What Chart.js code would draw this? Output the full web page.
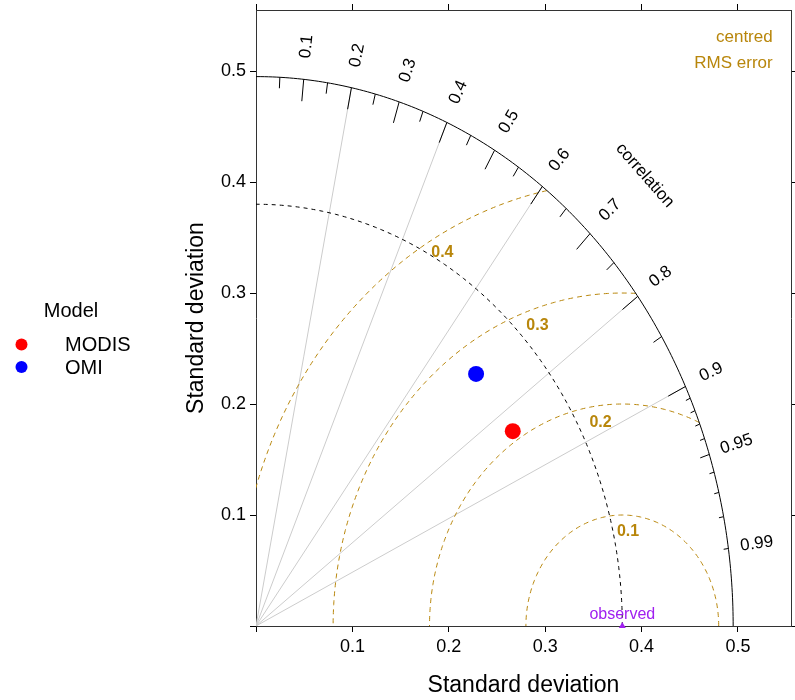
<!DOCTYPE html>
<html>
<head>
<meta charset="utf-8">
<script src="https://cdn.jsdelivr.net/npm/chart.js@4.4.1/dist/chart.umd.min.js"></script>
<style>
  html, body { margin: 0; padding: 0; background: #fff; }
  #wrap { position: relative; width: 795px; height: 700px; }
</style>
</head>
<body>
<div id="wrap"><canvas id="taylor"></canvas></div>
<script>
// model statistics
const models = ['MODIS', 'OMI'];
const modelColors = ['#ff0000', '#0000ff'];
const modelSd = [0.319, 0.322];
const modelCorr = [0.835, 0.709];
const obsSd = 0.38;

// diagram furniture
const sdMax = 0.495;
const axisTicks = [0, 0.1, 0.2, 0.3, 0.4, 0.5];
const corrLines = [0.2, 0.4, 0.6, 0.8, 0.9];
const corrLabels = [0.1, 0.2, 0.3, 0.4, 0.5, 0.6, 0.7, 0.8, 0.9, 0.95, 0.99];
const bigTicks = [0.1, 0.2, 0.3, 0.4, 0.5, 0.6, 0.7, 0.8, 0.9];
const medTicks = [0.05, 0.15, 0.25, 0.35, 0.45, 0.55, 0.65, 0.75, 0.85, 0.95];
const smlTicks = [0.91, 0.92, 0.93, 0.94, 0.96, 0.97, 0.98, 0.99];
const rmsLevels = [0.1, 0.2, 0.3, 0.4];

const FONT = "'Liberation Sans', Arial, sans-serif";
const GOLD = '#b8860b';
const PURPLE = '#a020f0';

Chart.defaults.font.family = FONT;

// arcs, rays, ticks and labels of the taylor diagram
const taylorGrid = {
  id: 'taylorGrid',
  beforeDatasetsDraw(chart) {
    const { ctx, chartArea: a, scales: { x, y } } = chart;
    const px = v => x.getPixelForValue(v);
    const py = v => y.getPixelForValue(v);
    const polar = (r, t) => [px(r * Math.cos(t)), py(r * Math.sin(t))];
    const arc = r => {
      ctx.beginPath();
      for (let i = 0; i <= 180; i++) {
        const p = polar(r, Math.PI / 2 * i / 180);
        i ? ctx.lineTo(p[0], p[1]) : ctx.moveTo(p[0], p[1]);
      }
      ctx.stroke();
    };

    ctx.save();
    ctx.beginPath();
    ctx.rect(a.left, a.top, a.right - a.left, a.bottom - a.top);
    ctx.clip();
    ctx.lineWidth = 1;

    // correlation rays
    ctx.strokeStyle = '#cccccc';
    corrLines.forEach(c => {
      const e = polar(sdMax, Math.acos(c));
      ctx.beginPath();
      ctx.moveTo(px(0), py(0));
      ctx.lineTo(e[0], e[1]);
      ctx.stroke();
    });

    // centred rms circles around the observed point
    ctx.strokeStyle = GOLD;
    ctx.setLineDash([5, 4]);
    rmsLevels.forEach(v => {
      const lim = (sdMax * sdMax - obsSd * obsSd - v * v) / (2 * obsSd * v);
      const start = lim >= 1 ? 0 : Math.acos(Math.max(-1, lim));
      ctx.beginPath();
      for (let i = 0; i <= 200; i++) {
        const p = start + (Math.PI - start) * i / 200;
        const X = px(obsSd + v * Math.cos(p)), Y = py(v * Math.sin(p));
        i ? ctx.lineTo(X, Y) : ctx.moveTo(X, Y);
      }
      ctx.stroke();
    });

    // observed sd arc
    ctx.strokeStyle = '#000';
    ctx.setLineDash([4, 4]);
    arc(obsSd);
    ctx.setLineDash([]);
    arc(sdMax);

    // ticks on the outer arc
    [[bigTicks, 0.96], [medTicks, 0.98], [smlTicks, 0.99]].forEach(([list, f]) => {
      list.forEach(c => {
        const t = Math.acos(c);
        const p1 = polar(sdMax, t), p2 = polar(sdMax * f, t);
        ctx.beginPath();
        ctx.moveTo(p1[0], p1[1]);
        ctx.lineTo(p2[0], p2[1]);
        ctx.stroke();
      });
    });
    ctx.restore();

    ctx.save();
    ctx.textAlign = 'center';
    ctx.textBaseline = 'middle';

    // correlation labels
    ctx.fillStyle = '#000';
    ctx.font = '17px ' + FONT;
    corrLabels.forEach(c => {
      const t = Math.acos(c);
      const p = polar(sdMax * 1.06, t);
      ctx.save();
      ctx.translate(p[0], p[1]);
      ctx.rotate(-t);
      ctx.fillText(String(c), 0, 0);
      ctx.restore();
    });
    const cp = [px(0.815 * sdMax), py(0.82 * sdMax)];
    ctx.save();
    ctx.translate(cp[0], cp[1]);
    ctx.rotate(Math.PI * 0.27);
    ctx.fillText('correlation', 0, 0);
    ctx.restore();

    // rms labels
    ctx.fillStyle = GOLD;
    ctx.font = 'bold 16px ' + FONT;
    rmsLevels.forEach(v => {
      const ang = (75 + 110 * v) * Math.PI / 180;
      const d = v - 0.015;
      ctx.fillText(String(v), px(obsSd + d * Math.cos(ang)), py(d * Math.sin(ang)));
    });

    ctx.font = '17px ' + FONT;
    ctx.textAlign = 'right';
    ctx.fillText('centred', px(0.536), py(0.530));
    ctx.fillText('RMS error', px(0.536), py(0.507));

    ctx.fillStyle = PURPLE;
    ctx.font = '16px ' + FONT;
    ctx.textAlign = 'center';
    ctx.textBaseline = 'alphabetic';
    ctx.fillText('observed', px(obsSd), py(0) - 7);
    ctx.restore();
  },
  afterDraw(chart) {
    // legend on the left
    const { ctx } = chart;
    ctx.save();
    ctx.textBaseline = 'middle';
    ctx.fillStyle = '#000';
    ctx.font = '20px ' + FONT;
    ctx.textAlign = 'center';
    ctx.fillText('Model', 71, 311);
    ctx.textAlign = 'left';
    chart.data.datasets.filter(d => d.inLegend).forEach((d, i) => {
      const yy = 344.5 + i * 22.5;
      ctx.fillStyle = d.backgroundColor;
      ctx.beginPath();
      ctx.arc(21.5, yy, 6, 0, Math.PI * 2);
      ctx.fill();
      ctx.fillStyle = '#000';
      ctx.fillText(d.label, 65, yy + 1);
    });
    ctx.restore();
  }
};

const datasets = models.map((m, i) => ({
  label: m,
  inLegend: true,
  data: [{ x: modelSd[i] * modelCorr[i], y: modelSd[i] * Math.sqrt(1 - modelCorr[i] * modelCorr[i]) }],
  backgroundColor: modelColors[i],
  borderWidth: 0,
  pointRadius: 8
}));
datasets.push({
  label: 'observed',
  data: [{ x: obsSd, y: 0 }],
  pointStyle: 'triangle',
  backgroundColor: PURPLE,
  borderWidth: 0,
  pointRadius: 4,
  clip: false
});

const setTicks = s => { s.ticks = axisTicks.map(v => ({ value: v })); };
const tickLabel = v => v === 0 ? '' : v.toFixed(1);
// fixed box sizes so the plot area lands where the reference has it
const fixSize = (w, h) => s => {
  if (w !== null) s.width = w;
  if (h !== null) s.height = h;
  s.paddingTop = s.paddingBottom = s.paddingLeft = s.paddingRight = 0;
};

new Chart(document.getElementById('taylor'), {
  type: 'scatter',
  data: { datasets },
  plugins: [taylorGrid],
  options: {
    responsive: true,
    maintainAspectRatio: false,
    animation: false,
    events: [],
    layout: { padding: { left: 180, right: 0, top: 0, bottom: 0 }, autoPadding: false },
    plugins: { legend: { display: false }, tooltip: { enabled: false } },
    scales: {
      x: {
        type: 'linear', position: 'bottom', min: 0, max: 0.555,
        afterBuildTicks: setTicks,
        afterFit: fixSize(null, 74),
        ticks: { callback: tickLabel, padding: 4, color: '#000', font: { size: 18 }, maxRotation: 0, autoSkip: false },
        grid: { drawOnChartArea: false, tickLength: 6, tickColor: '#000' },
        border: { color: '#333' },
        title: { display: true, text: 'Standard deviation', color: '#000', font: { size: 23 }, padding: { top: 0, bottom: 1 } }
      },
      y: {
        type: 'linear', position: 'left', min: 0, max: 0.555,
        afterBuildTicks: setTicks,
        afterFit: fixSize(76, null),
        ticks: { callback: tickLabel, padding: 4, color: '#000', font: { size: 18 }, autoSkip: false },
        grid: { drawOnChartArea: false, tickLength: 6, tickColor: '#000' },
        border: { color: '#333' },
        title: { display: true, text: 'Standard deviation', color: '#000', font: { size: 23 }, padding: { top: 3, bottom: 0 } }
      },
      x2: {
        type: 'linear', position: 'top', min: 0, max: 0.555,
        afterBuildTicks: setTicks,
        afterFit: fixSize(null, 10),
        ticks: { display: false },
        grid: { drawOnChartArea: false, tickLength: 6, tickColor: '#000' },
        border: { color: '#333' }
      },
      y2: {
        type: 'linear', position: 'right', min: 0, max: 0.555,
        afterBuildTicks: setTicks,
        afterFit: fixSize(4, null),
        ticks: { display: false },
        grid: { drawOnChartArea: false, tickLength: 6, tickColor: '#000' },
        border: { color: '#333' }
      }
    }
  }
});
</script>
</body>
</html>
